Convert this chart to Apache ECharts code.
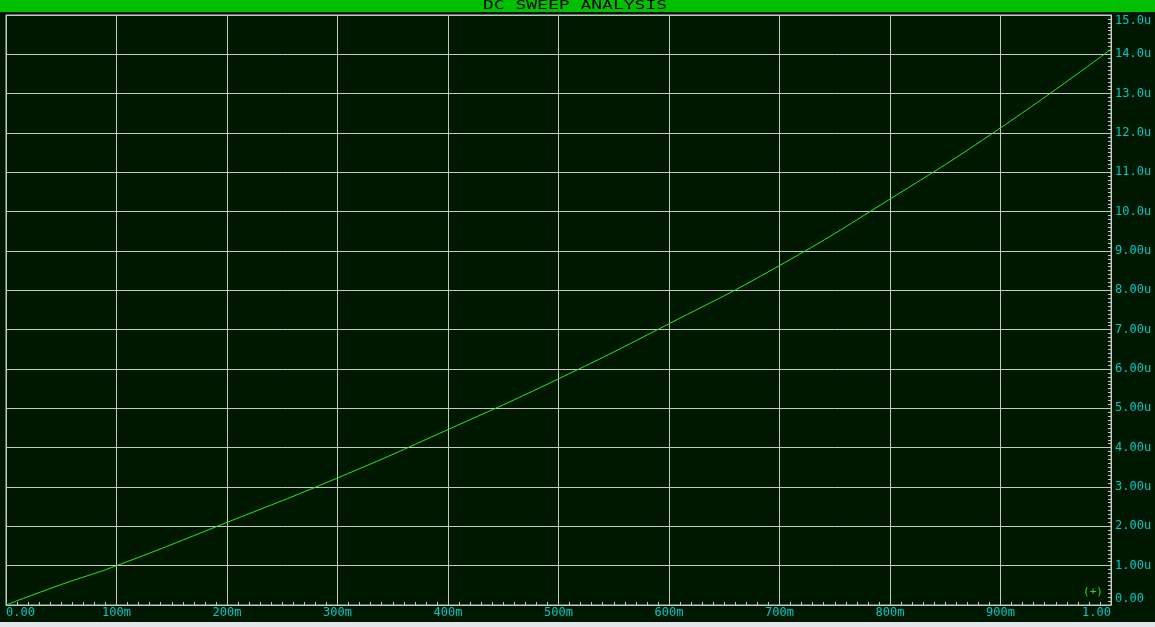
<!DOCTYPE html>
<html>
<head>
<meta charset="utf-8">
<script src="https://cdn.jsdelivr.net/npm/echarts@6/dist/echarts.min.js"></script>
<style>
html,body{margin:0;padding:0;background:#e2e6ea;}
#c{width:1155px;height:622px;background:#001800;}
</style>
</head>
<body>
<div id="c"></div>
<script>
// Sweep values (V) and current (µA)
const sweepX = [0, 0.05, 0.1, 0.2, 0.3, 0.4, 0.5, 0.6, 0.7, 0.8, 0.9, 1.0];
const currentU = [0, 0.52, 1.0, 2.1, 3.23, 4.46, 5.75, 7.15, 8.63, 10.32, 12.13, 14.13];
const titleText = 'DC SWEEP ANALYSIS';
const markerText = '(+)';

const gridCol = '#c8c8c8';
const labCol = '#00c8c8';
const font = 'DejaVu Sans Mono';

function fmtX(v){
  if (Math.abs(v) < 1e-9) return '0.00';
  if (Math.abs(v - 1) < 1e-9) return '1.00';
  return Math.round(v * 1000) + 'm';
}
function fmtY(v){
  if (Math.abs(v) < 1e-9) return '0.00';
  return (v < 10 ? v.toFixed(2) : v.toFixed(1)) + 'u';
}

const chart = echarts.init(document.getElementById('c'), null, {renderer: 'canvas'});
chart.setOption({
  backgroundColor: '#001800',
  animation: false,
  grid: {left: 6, right: 44, top: 15, bottom: 17, show: true, borderColor: gridCol, borderWidth: 1, backgroundColor: '#001800'},
  xAxis: {
    type: 'value', min: 0, max: 1, interval: 0.1,
    axisLine: {show: true, onZero: false, lineStyle: {color: gridCol, width: 1}},
    axisTick: {show: true, inside: true, length: 4, lineStyle: {color: gridCol}},
    minorTick: {show: true, splitNumber: 10, length: 3, lineStyle: {color: gridCol}},
    splitLine: {show: true, lineStyle: {color: gridCol, width: 1}},
    axisLabel: {color: labCol, fontFamily: font, fontSize: 12, margin: 2, formatter: fmtX,
      alignMinLabel: 'left', alignMaxLabel: 'right'}
  },
  yAxis: {
    type: 'value', position: 'right', min: 0, max: 15, interval: 1,
    axisLine: {show: true, onZero: false, lineStyle: {color: gridCol, width: 1}},
    axisTick: {show: true, inside: true, length: 4, lineStyle: {color: gridCol}},
    minorTick: {show: true, splitNumber: 10, length: 3, lineStyle: {color: gridCol}},
    splitLine: {show: true, lineStyle: {color: gridCol, width: 1}},
    axisLabel: {color: labCol, fontFamily: font, fontSize: 12, margin: 4, formatter: fmtY,
      verticalAlignMinLabel: 'bottom', verticalAlignMaxLabel: 'top'}
  },
  series: [{
    type: 'line', data: sweepX.map((x, i) => [x, currentU[i]]),
    smooth: true, showSymbol: false, symbol: 'none',
    lineStyle: {color: '#22ee22', width: 1}
  }],
  graphic: [
    {type: 'rect', left: 0, top: 0, shape: {x: 0, y: 0, width: 1155, height: 12}, style: {fill: '#00c000'}, z: 100},
    {type: 'text', x: 575, y: 6, scaleX: 1.5, originX: 0, originY: 0,
      style: {text: titleText, fill: '#000000', font: '12px "DejaVu Sans Mono"', textAlign: 'center', textVerticalAlign: 'middle'}, z: 101},
    {type: 'text', x: 1093, y: 592,
      style: {text: markerText, fill: '#22dd22', font: '11px "DejaVu Sans Mono"', textAlign: 'center', textVerticalAlign: 'middle'}, z: 101}
  ]
});
</script>
</body>
</html>
